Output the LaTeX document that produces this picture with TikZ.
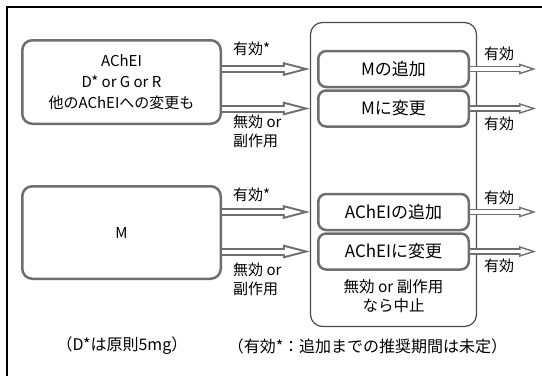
\documentclass[tikz,border=0pt]{standalone}
\usepackage{fontspec}
\setmainfont{Noto Sans CJK JP}
\usetikzlibrary{positioning,arrows.meta,calc}
\definecolor{boxgray}{HTML}{6E6E6E}
\definecolor{framegray}{HTML}{4A4A4A}

\begin{document}
\begin{tikzpicture}[x=1pt, y=-1pt,
  drug/.style={draw=boxgray, line width=2.5pt, rounded corners=10pt,
    minimum width=198.5pt, align=center, font=\fontsize{15}{21}\selectfont},
  plan/.style={draw=boxgray, line width=2.5pt, rounded corners=8pt,
    minimum width=150.5pt, minimum height=36pt, font=\fontsize{17}{20}\selectfont},
  lbl/.style={inner sep=0pt, align=left, font=\fontsize{15}{19}\selectfont},
  bigarrow/.style={draw=boxgray, line width=8pt,
    -{Triangle[length=27pt, width=14pt, line width=0pt]},
    postaction={draw=white, line width=4pt, shorten >=8pt,
      -{Triangle[length=17pt, width=8.8pt, line width=0pt]}}},
  smallarrow/.style={draw=boxgray, line width=6.5pt,
    -{Triangle[length=17pt, width=11pt, line width=0pt]},
    postaction={draw=white, line width=3.3pt, shorten >=4.9pt,
      -{Triangle[length=10.6pt, width=6.9pt, line width=0pt]}}}]
  \useasboundingbox (0,0) rectangle (542,376);
  \draw[line width=1.3pt] (7,376) -- (7,7) -- (542,7);

  % left: current drugs
  \node[drug, minimum height=83.5pt] (ache) at (121.5,82)
    {AChEI\\D* or G or R\\他のAChEIへの変更も};
  \node[drug, minimum height=92.5pt] (meman) at (121.5,232.5) {M};

  % right: next step
  \node[draw=framegray, line width=1.2pt, rounded corners=12pt,
    minimum width=166pt, minimum height=304pt] (hub) at (393.5,174.5) {};
  \node[plan] (addM) at (393.5,69) {Mの追加};
  \node[plan, below=1pt of addM] (toM) {Mに変更};
  \node[plan] (addA) at (393.5,212) {AChEIの追加};
  \node[plan, below=1pt of addA] (toA) {AChEIに変更};
  \node[lbl, align=center, font=\fontsize{15.5}{19}\selectfont] (stop)
    at (393.5,296) {無効 or 副作用\\なら中止};

  \draw[bigarrow] (ache.east |- addM) -- (hub.west |- addM);
  \draw[bigarrow] (ache.east |- toM) -- (hub.west |- toM);
  \draw[bigarrow] (meman.east |- addA) -- (hub.west |- addA);
  \draw[bigarrow] (meman.east |- toA) -- (hub.west |- toA);

  \foreach \b/\o in {addM/o1, toM/o2, addA/o3, toA/o4} {
    \coordinate (\o) at ($(\b.east)+(66pt,0pt)$);
    \draw[smallarrow] (\b.east) -- (\o);
  }

  % labels
  \node[lbl, anchor=west] (ok1) at (233,49) {有効*};
  \node[lbl, anchor=west] (ng1) at (233,131.5) {無効 or\\副作用};
  \node[lbl, anchor=west] (ok2) at (233,195) {有効*};
  \node[lbl, anchor=west] (ng2) at (233,279) {無効 or\\副作用};
  \node[lbl, anchor=west] (ok3) at (484,53.5) {有効};
  \node[lbl, anchor=west] (ok4) at (484,123.5) {有効};
  \node[lbl, anchor=west] (ok5) at (484,197.5) {有効};
  \node[lbl, anchor=west] (ok6) at (484,266) {有効};

  \node[lbl, font=\fontsize{16}{19}\selectfont] (note1) at (122,346) {（D*は原則5mg）};
  \node[lbl, font=\fontsize{16}{19}\selectfont] (note2) at (367.5,346)
    {（有効*：追加までの推奨期間は未定）};
\end{tikzpicture}
\end{document}
